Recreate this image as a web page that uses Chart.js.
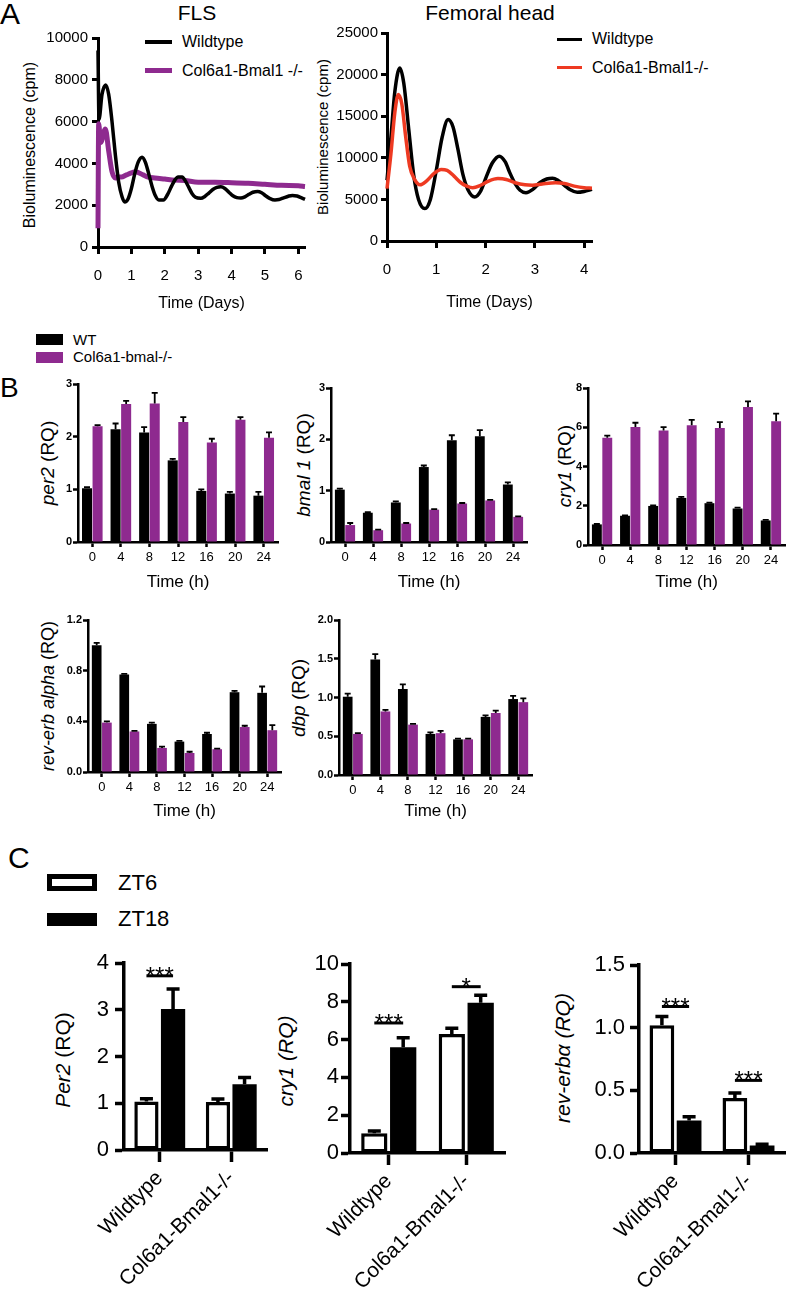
<!DOCTYPE html>
<html>
<head>
<meta charset="utf-8">
<script src="https://cdn.jsdelivr.net/npm/chart.js@4.4.1/dist/chart.umd.min.js"></script>
<style>
body { margin: 0; width: 787px; height: 1298px; position: relative; overflow: hidden; background: #fff;
       font-family: "Liberation Sans", Arial, sans-serif; color: #000; }
canvas { position: absolute; }
.t { position: absolute; white-space: nowrap; line-height: 1; }
.c { position: absolute; white-space: nowrap; line-height: 1; transform: translateX(-50%); }
.v { position: absolute; white-space: nowrap; line-height: 1; transform: translate(-50%, -50%) rotate(-90deg); }
.sw { position: absolute; }
</style>
</head>
<body>

<div class="t" style="left:0px;top:-1px;font-size:30px">A</div>
<div class="t" style="left:0px;top:374px;font-size:28px">B</div>
<div class="t" style="left:8px;top:843px;font-size:30px">C</div>

<div class="c" style="left:197px;top:2px;font-size:21px">FLS</div>
<div class="c" style="left:490px;top:2px;font-size:21px">Femoral head</div>

<div class="sw" style="left:145px;top:40px;width:27px;height:3.5px;background:#000"></div>
<div class="t" style="left:182px;top:34px;font-size:16px">Wildtype</div>
<div class="sw" style="left:145px;top:68px;width:27px;height:5px;background:#8e2a8f"></div>
<div class="t" style="left:182px;top:63px;font-size:16px">Col6a1-Bmal1 -/-</div>

<div class="sw" style="left:557px;top:38px;width:25px;height:3px;background:#000"></div>
<div class="t" style="left:592px;top:31px;font-size:16px">Wildtype</div>
<div class="sw" style="left:557px;top:66px;width:25px;height:3px;background:#ee3a22"></div>
<div class="t" style="left:592px;top:60px;font-size:16px">Col6a1-Bmal1-/-</div>

<div class="v" style="left:30px;top:145px;font-size:16px">Bioluminescence (cpm)</div>
<div class="v" style="left:322px;top:137px;font-size:15px">Bioluminescence (cpm)</div>

<div class="sw" style="left:36px;top:334px;width:27px;height:11px;background:#000"></div>
<div class="t" style="left:73px;top:332px;font-size:15px">WT</div>
<div class="sw" style="left:36px;top:352px;width:27px;height:11px;background:#8e2a8f"></div>
<div class="t" style="left:73px;top:349px;font-size:15px">Col6a1-bmal-/-</div>

<div class="v" style="left:47px;top:463px;font-size:19px"><i>per2</i> (RQ)</div>
<div class="v" style="left:303px;top:465px;font-size:19px"><i>bmal 1</i> (RQ)</div>
<div class="v" style="left:564px;top:466px;font-size:19px"><i>cry1</i> (RQ)</div>
<div class="v" style="left:48px;top:696px;font-size:18px"><i>rev-erb alpha</i> (RQ)</div>
<div class="v" style="left:298px;top:698px;font-size:19px"><i>dbp</i> (RQ)</div>

<div class="sw" style="left:47px;top:874px;width:50px;height:17px;border:5px solid #000;box-sizing:border-box;background:#fff"></div>
<div class="t" style="left:118px;top:872px;font-size:22px">ZT6</div>
<div class="sw" style="left:47px;top:913px;width:50px;height:13px;background:#000"></div>
<div class="t" style="left:118px;top:908px;font-size:22px">ZT18</div>

<div class="v" style="left:62px;top:1060px;font-size:21px"><i>Per2</i> (RQ)</div>
<div class="v" style="left:285px;top:1061px;font-size:21px"><i>cry1 (RQ)</i></div>
<div class="v" style="left:562px;top:1058px;font-size:21px"><i>rev-erbα (RQ)</i></div>

<script>
const PURPLE = '#8e2a8f'
const RED = '#ee3a22'

// A - bioluminescence, time in days, cpm
const flsWtT = [0, 0.03, 0.12, 0.23, 0.32, 0.42, 0.52, 0.62, 0.72, 0.8, 0.9, 1.0, 1.1, 1.2, 1.32, 1.42, 1.52, 1.62, 1.72, 1.82, 1.96, 2.08, 2.2, 2.3, 2.4, 2.52, 2.62, 2.72, 2.82, 2.92, 3.08, 3.2, 3.32, 3.44, 3.56, 3.68, 3.8, 3.92, 4.04, 4.16, 4.28, 4.4, 4.52, 4.64, 4.78, 4.9, 5.02, 5.14, 5.3, 5.42, 5.56, 5.7, 5.82, 5.96, 6.1, 6.2]
const flsWtV = [9400, 6100, 7300, 7750, 7300, 6000, 4400, 3100, 2400, 2150, 2300, 2800, 3500, 4050, 4300, 4050, 3500, 2900, 2450, 2250, 2250, 2500, 2900, 3200, 3350, 3350, 3150, 2850, 2550, 2380, 2330, 2420, 2580, 2750, 2850, 2880, 2800, 2620, 2450, 2360, 2340, 2400, 2520, 2620, 2660, 2600, 2450, 2330, 2250, 2270, 2350, 2430, 2470, 2440, 2350, 2280]
const flsKoT = [0, 0.02, 0.08, 0.22, 0.32, 0.42, 0.52, 0.6, 0.7, 0.85, 1.0, 1.12, 1.35, 1.5, 1.7, 2.0, 2.3, 2.6, 3.0, 3.5, 4.0, 4.5, 5.0, 5.5, 6.0, 6.2]
const flsKoV = [900, 5900, 5000, 5650, 4600, 3600, 3300, 3350, 3350, 3450, 3550, 3600, 3450, 3350, 3300, 3250, 3200, 3180, 3100, 3100, 3080, 3050, 3000, 2950, 2930, 2900]
const femWtT = [0, 0.08, 0.16, 0.26, 0.34, 0.44, 0.54, 0.64, 0.77, 0.88, 1.0, 1.12, 1.24, 1.34, 1.44, 1.54, 1.64, 1.78, 1.9, 2.02, 2.14, 2.28, 2.4, 2.5, 2.6, 2.7, 2.82, 2.96, 3.1, 3.24, 3.36, 3.48, 3.6, 3.72, 3.86, 4.0, 4.16]
const femWtV = [7300, 12500, 18000, 20800, 19000, 13500, 8000, 5000, 3900, 5000, 8500, 12500, 14600, 13700, 11000, 8000, 6200, 5300, 6000, 7800, 9400, 10200, 9500, 8100, 6900, 6100, 5800, 6200, 7000, 7450, 7550, 7250, 6700, 6150, 5850, 5950, 6200]
const femKoT = [0, 0.08, 0.16, 0.23, 0.3, 0.38, 0.46, 0.56, 0.67, 0.8, 0.95, 1.1, 1.22, 1.36, 1.5, 1.62, 1.74, 1.9, 2.06, 2.25, 2.42, 2.6, 2.8, 2.95, 3.15, 3.42, 3.6, 3.8, 4.0, 4.16]
const femKoV = [6300, 10500, 15500, 17600, 16500, 12500, 9000, 7400, 6750, 7200, 8100, 8600, 8500, 7800, 7000, 6600, 6400, 6700, 7200, 7500, 7400, 7000, 6750, 6700, 6850, 7000, 6900, 6600, 6400, 6350]
const flsTicksX = [0, 1, 2, 3, 4, 5, 6]
const flsTicksY = [0, 2000, 4000, 6000, 8000, 10000]
const femTicksX = [0, 1, 2, 3, 4]
const femTicksY = [0, 5000, 10000, 15000, 20000, 25000]

// B - qPCR time course (RQ), mean and SEM
const hours = ['0', '4', '8', '12', '16', '20', '24']
const per2Wt = [1.02, 2.14, 2.08, 1.55, 0.97, 0.92, 0.88]
const per2WtErr = [0.02, 0.11, 0.1, 0.03, 0.03, 0.03, 0.07]
const per2Ko = [2.2, 2.62, 2.63, 2.28, 1.89, 2.32, 1.98]
const per2KoErr = [0.02, 0.06, 0.2, 0.09, 0.07, 0.05, 0.1]
const bmalWt = [1.02, 0.57, 0.77, 1.46, 1.98, 2.06, 1.12]
const bmalWtErr = [0.02, 0.01, 0.02, 0.03, 0.1, 0.12, 0.04]
const bmalKo = [0.33, 0.23, 0.36, 0.63, 0.75, 0.81, 0.49]
const bmalKoErr = [0.04, 0.01, 0.01, 0.01, 0.01, 0.01, 0.01]
const cry1Wt = [1.05, 1.49, 1.99, 2.4, 2.13, 1.86, 1.25]
const cry1WtErr = [0.02, 0.02, 0.03, 0.05, 0.03, 0.04, 0.03]
const cry1Ko = [5.47, 6.01, 5.84, 6.1, 5.96, 7.03, 6.3]
const cry1KoErr = [0.1, 0.22, 0.17, 0.28, 0.3, 0.29, 0.39]
const revWt = [1.0, 0.77, 0.38, 0.24, 0.3, 0.63, 0.625]
const revWtErr = [0.02, 0.005, 0.01, 0.005, 0.01, 0.01, 0.05]
const revKo = [0.39, 0.32, 0.19, 0.15, 0.18, 0.355, 0.33]
const revKoErr = [0.01, 0.005, 0.01, 0.01, 0.005, 0.01, 0.04]
const dbpWt = [1.01, 1.49, 1.11, 0.53, 0.46, 0.75, 0.98]
const dbpWtErr = [0.04, 0.07, 0.06, 0.02, 0.01, 0.02, 0.04]
const dbpKo = [0.53, 0.82, 0.65, 0.54, 0.46, 0.8, 0.94]
const dbpKoErr = [0.01, 0.02, 0.01, 0.03, 0.01, 0.03, 0.05]
const per2TicksB = [0, 1, 2, 3]
const bmalTicksB = [0, 1, 2, 3]
const cry1TicksB = [0, 2, 4, 6, 8]
const revTicksB = [0, 0.4, 0.8, 1.2]
const dbpTicksB = [0, 0.5, 1.0, 1.5, 2.0]

// C - ZT6 vs ZT18
const genotypes = ['Wildtype', 'Col6a1-Bmal1-/-']
const per2Zt6 = [1.04, 1.03]
const per2Zt6Err = [0.06, 0.06]
const per2Zt18 = [3.02, 1.41]
const per2Zt18Err = [0.43, 0.14]
const cry1Zt6 = [1.05, 6.3]
const cry1Zt6Err = [0.12, 0.3]
const cry1Zt18 = [5.6, 7.95]
const cry1Zt18Err = [0.5, 0.4]
const revZt6 = [1.02, 0.44]
const revZt6Err = [0.07, 0.04]
const revZt18 = [0.26, 0.06]
const revZt18Err = [0.03, 0.01]
const per2TicksC = [0, 1, 2, 3, 4]
const cry1TicksC = [0, 2, 4, 6, 8, 10]
const revTicksC = [0, 0.5, 1.0, 1.5]
const per2Sig = [{ cat: 0, y: 3.73, text: '***' }]
const cry1Sig = [{ cat: 0, y: 6.88, text: '***' }, { cat: 1, y: 8.8, text: '*' }]
const revSig = [{ cat: 0, y: 1.17, text: '***' }, { cat: 1, y: 0.58, text: '***' }]

const FONT = '"Liberation Sans", Arial, sans-serif'
Chart.defaults.font.family = FONT
Chart.defaults.color = '#000'
Chart.defaults.animation = false
Chart.defaults.plugins.legend.display = false
Chart.defaults.plugins.tooltip.enabled = false

const errorBars = {
    id: 'errorBars',
    afterDatasetsDraw(chart, args, opts) {
        const { ctx } = chart
        const y = chart.scales.y
        ctx.save()
        ctx.strokeStyle = '#000'
        ctx.lineWidth = opts.width
        chart.data.datasets.forEach((ds, i) => {
            if(!ds.errors) return
            chart.getDatasetMeta(i).data.forEach((bar, j) => {
                const top = y.getPixelForValue(ds.data[j] + ds.errors[j])
                ctx.beginPath()
                ctx.moveTo(bar.x, bar.y)
                ctx.lineTo(bar.x, top)
                ctx.moveTo(bar.x - opts.cap / 2, top)
                ctx.lineTo(bar.x + opts.cap / 2, top)
                ctx.stroke()
            })
        })
        ctx.restore()
    }
}

const sigMarks = {
    id: 'sigMarks',
    afterDatasetsDraw(chart, args, opts) {
        if(!opts.marks) return
        const { ctx } = chart
        const y = chart.scales.y
        const left = chart.getDatasetMeta(0).data
        const right = chart.getDatasetMeta(1).data
        ctx.save()
        ctx.strokeStyle = '#000'
        ctx.fillStyle = '#000'
        ctx.lineWidth = 3
        ctx.font = `24px ${FONT}`
        ctx.textAlign = 'center'
        opts.marks.forEach(m => {
            const x0 = left[m.cat].x
            const x1 = right[m.cat].x
            const py = y.getPixelForValue(m.y)
            ctx.beginPath()
            ctx.moveTo(x0, py)
            ctx.lineTo(x1, py)
            ctx.stroke()
            ctx.fillText(m.text, (x0 + x1) / 2, py + 8)
        })
        ctx.restore()
    }
}

// canvas sized so that the chart area lands on the given plot rectangle
const place = (plot, yW, xH) => {
    const pad = { left: 0, top: 16, right: 16, bottom: 0 }
    const canvas = document.createElement('canvas')
    canvas.width = plot.r - plot.l + yW + pad.right
    canvas.height = plot.b - plot.t + xH + pad.top
    canvas.style.left = `${plot.l - yW}px`
    canvas.style.top = `${plot.t - pad.top}px`
    document.body.appendChild(canvas)
    return { canvas, pad }
}

const yAxis = (ticks, o) => ({
    type: 'linear',
    min: ticks[0],
    max: ticks[ticks.length - 1],
    afterBuildTicks: s => { s.ticks = ticks.map(value => ({ value })) },
    afterFit: s => { s.width = o.w },
    border: { color: '#000', width: o.lw },
    grid: { drawOnChartArea: false, tickLength: o.tl, tickWidth: o.lw, tickColor: '#000' },
    ticks: { font: o.font, padding: o.pad, callback: o.fmt || (v => String(v)) }
})

const xLinear = (ticks, max, o) => ({
    type: 'linear',
    min: 0,
    max: max,
    afterBuildTicks: s => { s.ticks = ticks.map(value => ({ value })) },
    afterFit: s => { s.height = o.h },
    border: { color: '#000', width: o.lw },
    grid: { drawOnChartArea: false, tickLength: o.tl, tickWidth: o.lw, tickColor: '#000' },
    ticks: { font: o.font, padding: o.pad, callback: v => String(v) },
    title: { display: true, text: o.title, font: { size: o.titleSize }, padding: 0 }
})

const xCategory = o => ({
    type: 'category',
    offset: true,
    afterFit: s => { s.height = o.h },
    border: { color: '#000', width: o.lw },
    grid: { offset: false, drawOnChartArea: false, tickLength: o.tl, tickWidth: o.lw, tickColor: '#000' },
    ticks: { font: o.font, padding: o.pad, autoSkip: false, maxRotation: o.rot, minRotation: o.rot },
    title: o.title ? { display: true, text: o.title, font: { size: 17 }, padding: 0 } : { display: false }
})

const pairs = (t, v) => t.map((x, i) => ({ x: x, y: v[i] }))

const lineChart = (plot, yW, xH, sets, xTicks, xMax, yTicks, yPad) => {
    const { canvas, pad } = place(plot, yW, xH)
    new Chart(canvas, {
        type: 'line',
        data: { datasets: sets },
        options: {
            responsive: false,
            devicePixelRatio: 1,
            layout: { padding: pad },
            elements: { point: { radius: 0 }, line: { cubicInterpolationMode: 'monotone' } },
            scales: {
                x: xLinear(xTicks, xMax, { h: xH, lw: 3, tl: 7, pad: 13, font: { size: 15 }, title: 'Time (Days)', titleSize: 16 }),
                y: yAxis(yTicks, { w: yW, lw: 3, tl: 6, pad: yPad, font: { size: 15 } })
            }
        }
    })
}

lineChart({ l: 98, t: 38, r: 305, b: 247 }, 55, 66, [
    { data: pairs(flsWtT, flsWtV), borderColor: '#000', borderWidth: 3.5, order: 0, clip: 5 },
    { data: pairs(flsKoT, flsKoV), borderColor: PURPLE, borderWidth: 5, order: 1, clip: 5 }
], flsTicksX, 6.2, flsTicksY, 4)

lineChart({ l: 387, t: 33, r: 592, b: 241 }, 55, 71, [
    { data: pairs(femWtT, femWtV), borderColor: '#000', borderWidth: 3.5, order: 1, clip: 5 },
    { data: pairs(femKoT, femKoV), borderColor: RED, borderWidth: 3.5, order: 0, clip: 5 }
], femTicksX, 4.16, femTicksY, 3)

const timeCourse = (plot, xH, wt, wtErr, ko, koErr, yTicks, fmt) => {
    const { canvas, pad } = place(plot, 30, xH)
    new Chart(canvas, {
        type: 'bar',
        data: {
            labels: hours,
            datasets: [
                { data: wt, errors: wtErr, backgroundColor: '#000' },
                { data: ko, errors: koErr, backgroundColor: PURPLE }
            ]
        },
        options: {
            responsive: false,
            devicePixelRatio: 1,
            layout: { padding: pad },
            datasets: { bar: { categoryPercentage: 0.74, barPercentage: 0.95 } },
            plugins: { errorBars: { width: 1.8, cap: 6 } },
            scales: {
                x: xCategory({ h: xH, lw: 2.5, tl: 5, pad: 3, font: { size: 13 }, rot: 0, title: 'Time (h)' }),
                y: yAxis(yTicks, { w: 30, lw: 2.5, tl: 5, pad: 1, font: { size: 11, weight: 'bold' }, fmt })
            }
        },
        plugins: [errorBars]
    })
}

const oneDecimal = v => v.toFixed(1)
timeCourse({ l: 78, t: 384, r: 278, b: 542 }, 51, per2Wt, per2WtErr, per2Ko, per2KoErr, per2TicksB)
timeCourse({ l: 331, t: 388, r: 527, b: 542 }, 51, bmalWt, bmalWtErr, bmalKo, bmalKoErr, bmalTicksB)
timeCourse({ l: 588, t: 388, r: 785, b: 545 }, 48, cry1Wt, cry1WtErr, cry1Ko, cry1KoErr, cry1TicksB)
timeCourse({ l: 88, t: 620, r: 281, b: 772 }, 50, revWt, revWtErr, revKo, revKoErr, revTicksB, oneDecimal)
timeCourse({ l: 339, t: 620, r: 532, b: 775 }, 47, dbpWt, dbpWtErr, dbpKo, dbpKoErr, dbpTicksB, oneDecimal)

const ztChart = (plot, xH, zt6, zt6Err, zt18, zt18Err, yTicks, marks, yPad, fmt) => {
    const { canvas, pad } = place(plot, 60, xH)
    new Chart(canvas, {
        type: 'bar',
        data: {
            labels: genotypes,
            datasets: [
                { data: zt6, errors: zt6Err, backgroundColor: '#fff', borderColor: '#000', borderWidth: 3.5, borderSkipped: false },
                { data: zt18, errors: zt18Err, backgroundColor: '#000' }
            ]
        },
        options: {
            responsive: false,
            devicePixelRatio: 1,
            layout: { padding: pad },
            datasets: { bar: { categoryPercentage: 0.745, barPercentage: 0.91 } },
            plugins: { errorBars: { width: 3.5, cap: 13 }, sigMarks: { marks } },
            scales: {
                x: xCategory({ h: xH, lw: 3.5, tl: 12, pad: 4, font: { size: 21 }, rot: 45 }),
                y: yAxis(yTicks, { w: 60, lw: 3.5, tl: 9, pad: yPad, font: { size: 22 }, fmt })
            }
        },
        plugins: [errorBars, sigMarks]
    })
}

ztChart({ l: 124, t: 960, r: 267, b: 1150 }, 145, per2Zt6, per2Zt6Err, per2Zt18, per2Zt18Err, per2TicksC, per2Sig, 6)
ztChart({ l: 350, t: 964, r: 505, b: 1153 }, 142, cry1Zt6, cry1Zt6Err, cry1Zt18, cry1Zt18Err, cry1TicksC, cry1Sig, 2)
ztChart({ l: 639, t: 963, r: 785, b: 1153 }, 142, revZt6, revZt6Err, revZt18, revZt18Err, revTicksC, revSig, 5, oneDecimal)
</script>
</body>
</html>
